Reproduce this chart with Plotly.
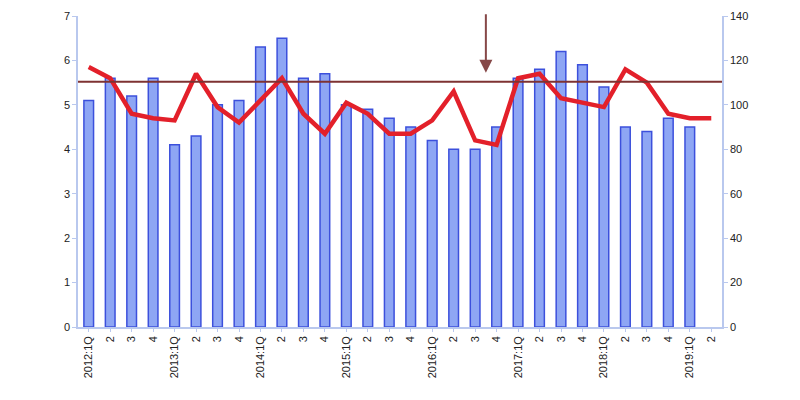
import plotly.graph_objects as go

categories = ["2012:1Q", "2", "3", "4",
              "2013:1Q", "2", "3", "4",
              "2014:1Q", "2", "3", "4",
              "2015:1Q", "2", "3", "4",
              "2016:1Q", "2", "3", "4",
              "2017:1Q", "2", "3", "4",
              "2018:1Q", "2", "3", "4",
              "2019:1Q", "2"]
# unique x keys (quarter index) with displayed tick labels
x_keys = [f"{2012 + i // 4}Q{i % 4 + 1}" for i in range(len(categories))]

bar_values = [5.1, 5.6, 5.2, 5.6,
              4.1, 4.3, 5.0, 5.1,
              6.3, 6.5, 5.6, 5.7,
              5.0, 4.9, 4.7, 4.5,
              4.2, 4.0, 4.0, 4.5,
              5.6, 5.8, 6.2, 5.9,
              5.4, 4.5, 4.4, 4.7,
              4.5, None]

line_values = [117, 112, 96, 94,
               93, 114, 99, 92,
               102, 112, 96, 87,
               101, 96, 87, 87,
               93, 106, 84, 82,
               112, 114, 103, 101,
               99, 116, 110, 96,
               94, 94]

threshold = 5.52
arrow_at = 18.5   # between 2016 Q3 and Q4
arrow_tip = 5.72

tick_font = dict(family="Liberation Sans, Arial, sans-serif", size=11, color="#222222")
axis_col = "#b9c8ee"

fig = go.Figure()
fig.add_trace(go.Bar(
    x=x_keys, y=bar_values, yaxis="y",
    marker=dict(color="#8ea6f4", line=dict(color="#3c50dc", width=1.5)),
    width=0.45, showlegend=False,
))
fig.add_trace(go.Scatter(
    x=x_keys, y=line_values, yaxis="y2", mode="lines",
    line=dict(color="#e3202a", width=4.5), showlegend=False,
))

fig.add_shape(type="line", xref="paper", yref="y", x0=0, x1=1,
              y0=threshold, y1=threshold,
              line=dict(color="#7e3232", width=2))

fig.add_annotation(x=arrow_at, y=arrow_tip, xref="x", yref="y",
                   ax=0, ay=-60, showarrow=True, arrowhead=2,
                   arrowsize=1.3, arrowwidth=2, arrowcolor="#864848", text="")

fig.update_layout(
    width=800, height=400,
    margin=dict(l=70, r=86, t=8, b=81, autoexpand=False),
    plot_bgcolor="white", paper_bgcolor="white",
    bargap=0.5,
    xaxis=dict(type="category", tickmode="array", tickvals=x_keys,
               ticktext=categories, tickangle=-90, tickfont=tick_font,
               showgrid=False, showline=True, linecolor=axis_col, linewidth=1.5,
               ticks="outside", ticklen=3, tickcolor=axis_col, automargin=False,
               range=[-0.5, len(categories) - 0.5]),
    yaxis=dict(range=[0, 7], dtick=1, tickfont=tick_font, showgrid=False,
               zeroline=False, showline=True, linecolor=axis_col, linewidth=1.5,
               ticks="outside", ticklen=4, tickcolor=axis_col, automargin=False,
               ticklabeloverflow="allow"),
    yaxis2=dict(range=[0, 140], dtick=20, overlaying="y", side="right",
                tickfont=tick_font, showgrid=False, zeroline=False,
                showline=True, linecolor=axis_col, linewidth=1.5,
                ticks="outside", ticklen=4, tickcolor=axis_col, automargin=False,
                ticklabeloverflow="allow"),
)

fig.write_html("out.html")
